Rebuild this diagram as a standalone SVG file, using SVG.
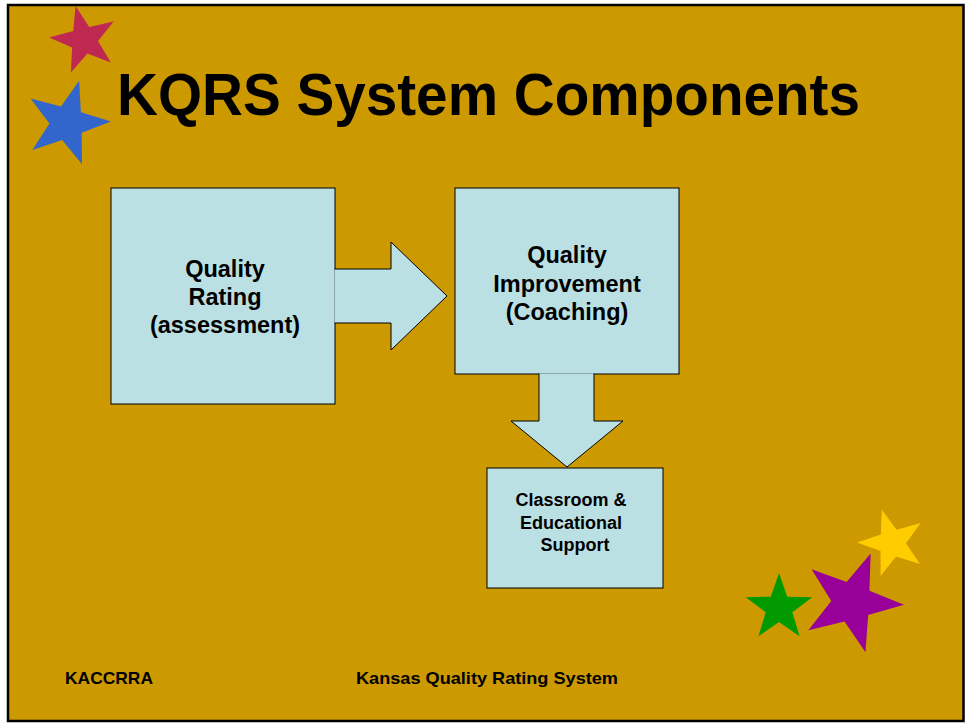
<svg xmlns="http://www.w3.org/2000/svg" xmlns:xlink="http://www.w3.org/1999/xlink" width="967" height="723" viewBox="0 0 967 723">
  <style>
    .box { fill: #BBE0E3; stroke: #000000; stroke-width: 1; }
    .arrow { fill: #BBE0E3; stroke: #000000; stroke-width: 1; stroke-linejoin: miter; }
    .t { font-family: "Liberation Sans", Arial, sans-serif; font-weight: bold; fill: #000000; }
    .big { font-size: 23.5px; text-anchor: middle; }
    .small { font-size: 18px; text-anchor: middle; }
    .foot { font-size: 17px; }
    .title { font-size: 59px; }
  </style>
  <defs>
    <path id="star" d="M0,-1 L0.2351,-0.3236 L0.9511,-0.309 L0.3804,0.1236 L0.5878,0.809 L0,0.4 L-0.5878,0.809 L-0.3804,0.1236 L-0.9511,-0.309 L-0.2351,-0.3236 Z"/>
  </defs>
  <rect x="0" y="0" width="967" height="723" fill="#FFFFFF"/>
  <rect id="slide" x="8" y="5" width="955.5" height="716" fill="#CC9900" stroke="#000000" stroke-width="2.5"/>

  <g id="stars">
    <use xlink:href="#star" href="#star" fill="#BF2850" transform="translate(84,40) rotate(-14) scale(35)"/>
    <use xlink:href="#star" href="#star" fill="#3366CC" transform="translate(67,123) rotate(16) scale(44)"/>
    <use xlink:href="#star" href="#star" fill="#FFCC00" transform="translate(892,543) rotate(-17) scale(35)"/>
    <use xlink:href="#star" href="#star" fill="#009900" transform="translate(779,608) scale(35)"/>
    <use xlink:href="#star" href="#star" fill="#990099" transform="translate(852,602) rotate(21) scale(52)"/>
  </g>

  <text id="title" class="t title" x="117" y="115" textLength="743" lengthAdjust="spacingAndGlyphs">KQRS System Components</text>

  <g id="node-quality-rating">
    <rect class="box" x="111" y="188" width="224" height="216"/>
    <text class="t big" x="225" y="277">Quality</text>
    <text class="t big" x="225" y="305">Rating</text>
    <text class="t big" x="225" y="333">(assessment)</text>
  </g>

  <g id="node-quality-improvement">
    <rect class="box" x="455" y="188" width="224" height="186"/>
    <text class="t big" x="567" y="263">Quality</text>
    <text class="t big" x="567" y="292">Improvement</text>
    <text class="t big" x="567" y="320">(Coaching)</text>
  </g>

  <g id="node-classroom-support">
    <rect class="box" x="487" y="468" width="176" height="120"/>
    <text class="t small" x="571" y="506">Classroom &amp;</text>
    <text class="t small" x="571" y="528.5">Educational</text>
    <text class="t small" x="575" y="551">Support</text>
  </g>

  <g id="connectors">
    <path class="arrow" d="M334.5,269 H391 V242 L447,296 L391,350 V323 H334.5"/>
    <path class="arrow" d="M539,373.5 V421 H511 L567,467 L623,421 H594 V373.5"/>
  </g>

  <g id="footer">
    <text class="t foot" x="65" y="684" textLength="88" lengthAdjust="spacingAndGlyphs">KACCRRA</text>
    <text class="t foot" x="356" y="684" textLength="262" lengthAdjust="spacingAndGlyphs">Kansas Quality Rating System</text>
  </g>
</svg>
